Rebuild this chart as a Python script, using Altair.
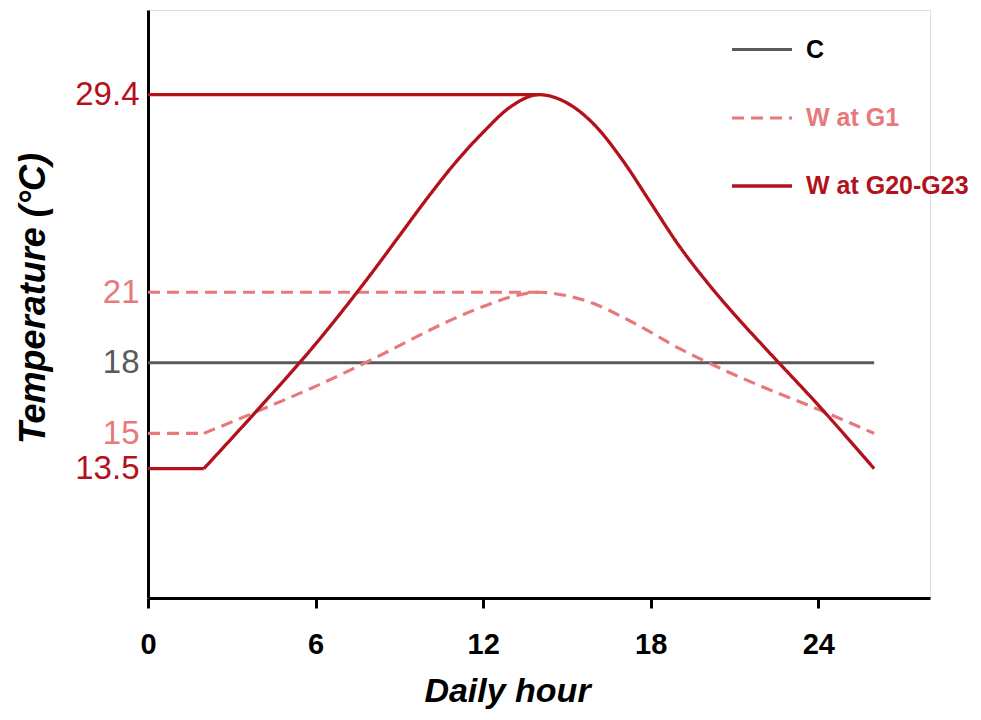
import altair as alt
import pandas as pd

# ---- data ----
series_names = ["C", "W at G1", "W at G20-G23"]
series_colors = ["#5a5a5a", "#E8797B", "#B3121C"]
series_dash = [[1, 0], [12, 7], [1, 0]]
series_width = [3, 3.3, 3.2]

hours_c = [0, 26]
temp_c = [18, 18]

hours_flat = [0, 2]
g1_flat = [15, 15]
g20_flat = [13.5, 13.5]

hours_guide = [0, 14]
g1_guide = [21, 21]
g20_guide = [29.4, 29.4]

hours_curve = [2, 4, 6, 8, 9, 10, 11, 12, 13, 14, 15, 16, 17, 18, 19, 20, 21, 22, 24, 26]
g1_curve = [15, 15.98, 17.0, 18.13, 18.73, 19.34, 19.9, 20.39, 20.8, 21,
            20.85, 20.5, 19.94, 19.3, 18.62, 18.04, 17.49, 16.98, 16.02, 15]
g20_curve = [13.5, 16.1, 18.8, 21.8, 23.4, 25.0, 26.5, 27.8, 28.9, 29.4,
             29.05, 28.1, 26.6, 24.8, 23.0, 21.45, 20.05, 18.75, 16.2, 13.5]

x_ticks = [0, 6, 12, 18, 24]
y_ticks = [13.5, 15, 18, 21, 29.4]

# ---- table ----
rows = []
def add(series, seg, xs, ys):
    for h, t in zip(xs, ys):
        rows.append({"hour": h, "temp": t, "series": series, "seg": seg})

add("C", "c", hours_c, temp_c)
add("W at G1", "flat", hours_flat, g1_flat)
add("W at G1", "guide", hours_guide, g1_guide)
add("W at G1", "curve", hours_curve, g1_curve)
add("W at G20-G23", "flat", hours_flat, g20_flat)
add("W at G20-G23", "guide", hours_guide, g20_guide)
add("W at G20-G23", "curve", hours_curve, g20_curve)
df = pd.DataFrame(rows)

sans = "Liberation Sans, Arial"

leg = alt.Legend(
    title=None, orient="none", legendX=582, legendY=8,
    symbolType="stroke", symbolSize=3600, symbolStrokeWidth=3,
    labelFont=sans, labelFontSize=25, labelFontWeight="bold",
    labelColor={"expr": "datum.label == 'C' ? '#000000' : (datum.label == 'W at G1' ? '#E8797B' : '#B3121C')"},
    labelOffset=12, rowPadding=23, padding=0, labelLimit=400,
)

chart = alt.Chart(df).mark_line(interpolate="monotone").encode(
    x=alt.X("hour:Q",
            scale=alt.Scale(domain=[0, 28], nice=False, zero=False),
            axis=alt.Axis(values=x_ticks, title="Daily hour", grid=False,
                          domainColor="black", domainWidth=3,
                          tickColor="black", tickWidth=3, tickSize=10,
                          labelFont=sans, labelFontSize=29, labelFontWeight="bold",
                          labelColor="black", labelPadding=22, labelFlush=False,
                          titleFont=sans, titleFontSize=34, titleFontWeight="bold",
                          titleFontStyle="italic", titleColor="black",
                          titleX=359, titleY=103, titleAlign="center",
                          titleBaseline="alphabetic")),
    y=alt.Y("temp:Q",
            scale=alt.Scale(domain=[8, 33], nice=False, zero=False),
            axis=alt.Axis(values=y_ticks, labelExpr="'' + datum.value", grid=False,
                          ticks=False, tickSize=0, labelOverlap=False,
                          domainColor="black", domainWidth=3,
                          labelFont=sans, labelFontSize=33, labelPadding=9,
                          labelBaseline="middle",
                          labelColor={"expr": "datum.value == 18 ? '#5a5a5a' : ((datum.value == 15 || datum.value == 21) ? '#E8797B' : '#B3121C')"},
                          title="Temperature (°C)", titleAngle=270,
                          titleFont=sans, titleFontSize=36, titleFontWeight="bold",
                          titleFontStyle="italic", titleColor="black",
                          titleX=-104, titleY=288, titleAlign="center",
                          titleBaseline="alphabetic")),
    color=alt.Color("series:N", scale=alt.Scale(domain=series_names, range=series_colors), legend=leg),
    strokeDash=alt.StrokeDash("series:N", scale=alt.Scale(domain=series_names, range=series_dash), legend=leg),
    strokeWidth=alt.StrokeWidth("series:N", scale=alt.Scale(domain=series_names, range=series_width), legend=None),
    detail="seg:N",
    order="hour:Q",
).properties(
    width=782, height=588,
    autosize=alt.AutoSizeParams(type="none"),
    padding={"left": 140, "top": 2, "right": 43, "bottom": 114},
).configure_view(stroke=None).configure(background="white")

chart.save("out.html", embed_options={"renderer": "svg", "actions": False})
